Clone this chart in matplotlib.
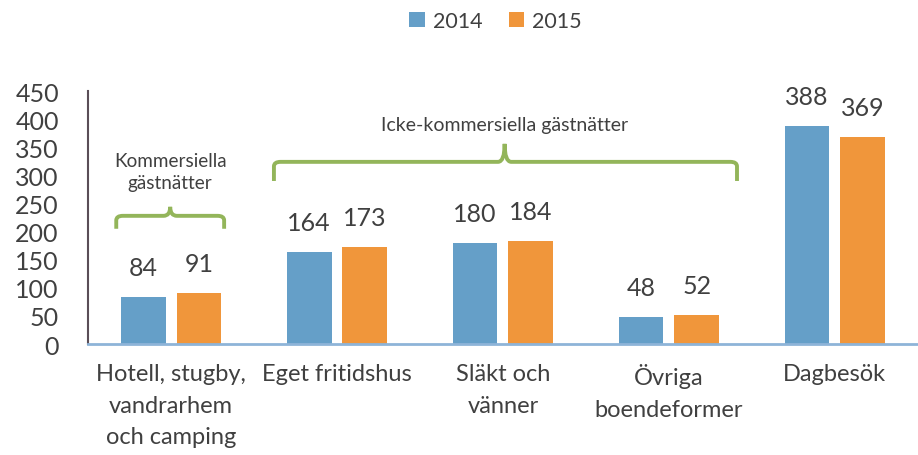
import matplotlib
matplotlib.use("Agg")
from matplotlib import pyplot as plt
from matplotlib.path import Path
from matplotlib.patches import PathPatch
import numpy as np

categories = ["Hotell, stugby,\nvandrarhem\noch camping", "Eget fritidshus",
              "Släkt och\nvänner", "Övriga\nboendeformer", "Dagbesök"]
values_2014 = [84, 164, 180, 48, 388]
values_2015 = [91, 173, 184, 52, 369]
series_names = ["2014", "2015"]
yticks = [0, 50, 100, 150, 200, 250, 300, 350, 400, 450]

blue = "#659FC8"
orange = "#F0963B"
green = "#93B55A"
text_col = "#404040"

plt.rcParams['font.family'] = ['Lato', 'DejaVu Sans']

fig = plt.figure(figsize=(9.18, 4.56), dpi=100)
ax = fig.add_axes([0.0959, 0.2434, 0.904, 0.5548])

x = np.arange(len(categories))
w = 0.27
off = 0.168
b1 = ax.bar(x - off, values_2014, w, color=blue, label=series_names[0])
b2 = ax.bar(x + off, values_2015, w, color=orange, label=series_names[1])

for bars in (b1, b2):
    for rect in bars:
        h = rect.get_height()
        ax.annotate(str(int(h)), (rect.get_x() + rect.get_width() / 2, h),
                    xytext=(0, 13), textcoords="offset points",
                    ha="center", va="bottom", fontsize=18, color=text_col)

ax.set_xlim(-0.5, len(categories) - 0.5)
ax.set_ylim(0, 450)
ax.set_yticks(yticks)
ax.set_yticklabels([str(t) for t in yticks], fontsize=18, color=text_col)
ax.tick_params(axis="y", length=0, pad=21)
ax.set_xticks(x)
ax.set_xticklabels(categories, fontsize=17, color=text_col, linespacing=1.6,
                   va="top")
ax.tick_params(axis="x", length=0, pad=14)

for s in ("top", "right"):
    ax.spines[s].set_visible(False)
ax.spines["left"].set_color("#5A4E57")
ax.spines["left"].set_linewidth(1.5)
ax.spines["bottom"].set_color("#8EB4D8")
ax.spines["bottom"].set_linewidth(2)


def draw_bracket(x0, x1, xm, y_end, y_line, y_tip, r=0.04, ry=8):
    v = [(x0, y_end), (x0, y_line - ry), (x0, y_line), (x0 + r, y_line),
         (xm - r, y_line), (xm, y_line), (xm, y_tip)]
    c = [Path.MOVETO, Path.LINETO, Path.CURVE3, Path.CURVE3,
         Path.LINETO, Path.CURVE3, Path.CURVE3]
    v += [(xm, y_tip), (xm, y_line), (xm + r, y_line),
          (x1 - r, y_line), (x1, y_line), (x1, y_line - ry), (x1, y_end)]
    c += [Path.MOVETO, Path.CURVE3, Path.CURVE3,
          Path.LINETO, Path.CURVE3, Path.CURVE3, Path.LINETO]
    ax.add_patch(PathPatch(Path(v, c), fill=False, edgecolor=green, lw=2.8,
                           capstyle="butt", joinstyle="round", clip_on=False))


draw_bracket(-0.33, 0.32, -0.005, 205, 228, 244)
draw_bracket(0.62, 3.41, 2.01, 290, 324, 356)

ax.text(-0.005, 307, "Kommersiella\ngästnätter", ha="center", va="center",
        fontsize=13.6, color=text_col, linespacing=1.3)
ax.text(2.01, 391, "Icke-kommersiella gästnätter", ha="center", va="center",
        fontsize=14, color=text_col)

fig.legend(handles=[b1, b2], labels=series_names, loc="center",
           bbox_to_anchor=(0.54, 0.952), ncol=2, frameon=False, fontsize=15.5,
           handlelength=0.7, handleheight=0.7, handletextpad=0.4,
           columnspacing=1.2, labelcolor=text_col)

fig.savefig("out.png", dpi=100)
